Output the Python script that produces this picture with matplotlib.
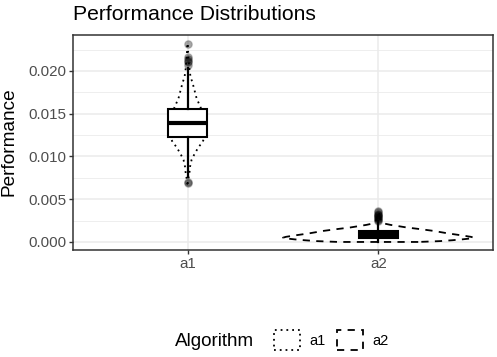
import matplotlib
matplotlib.use("Agg")
import matplotlib.pyplot as plt
from matplotlib.patches import Patch
import numpy as np

plt.rcParams['font.family'] = ['Liberation Sans', 'DejaVu Sans']

# categories
algorithms = ["a1", "a2"]

# violin outlines (value, relative density)
a1_coords = [0.0068, 0.0075, 0.0082, 0.0088, 0.0096, 0.0103, 0.0111, 0.0117, 0.0124, 0.0131, 0.0139,
             0.0146, 0.0152, 0.0160, 0.0168, 0.0177, 0.0186, 0.0193, 0.0201, 0.0213, 0.0225, 0.0232]
a1_density = [0.3, 1, 2, 2.5, 4, 7, 11, 15, 17.5, 19, 19,
              17.5, 15, 12, 9, 7, 5, 3, 2, 1, 0.5, 0.3]
a2_coords = [0.0000, 0.0001, 0.0002, 0.0003, 0.0004, 0.0005, 0.0006, 0.0008, 0.0010, 0.0013,
             0.0015, 0.0017, 0.0020, 0.0022, 0.0026, 0.0030, 0.0036]
a2_density = [40, 62, 74, 84, 92, 96, 93, 82, 70, 55,
              42, 28, 12, 4, 2, 1, 0.5]

# box stats
q1 = [0.01227, 0.00047]
med = [0.01391, 0.00080]
q3 = [0.01555, 0.00127]
whis_lo = [0.0076, 0.0000]
whis_hi = [0.0203, 0.0024]
a1_outliers = [0.0232, 0.0216, 0.0214, 0.0212, 0.0210, 0.0207, 0.0070, 0.0069]
a2_outliers = [0.0025, 0.0026, 0.0027, 0.0028, 0.0029, 0.0030, 0.0031, 0.0032, 0.0033, 0.0035, 0.0036]

fig = plt.figure(figsize=(4.97, 3.57), dpi=100)
ax = fig.add_axes([73/497, 1-250/357, 420/497, 215/357])

# violins
vp = []
for c, d in [(a1_coords, a1_density), (a2_coords, a2_density)]:
    vp.append({"coords": np.array(c), "vals": np.array(d, dtype=float),
               "mean": np.mean(c), "median": np.median(c), "min": min(c), "max": max(c)})
parts = ax.violin(vp, positions=[1, 2], widths=[0.2, 1.0],
                  showmeans=False, showextrema=False, showmedians=False)
styles = [(0, (1, 2.2)), (0, (4, 3.5))]
for body, ls in zip(parts["bodies"], styles):
    body.set_facecolor("none")
    body.set_edgecolor("black")
    body.set_linestyle(ls)
    body.set_linewidth(1.3)
    body.set_alpha(1)
    body.set_zorder(2)

# boxes
bstats = []
fl = [a1_outliers, a2_outliers]
for i in range(2):
    bstats.append({"med": med[i], "q1": q1[i], "q3": q3[i],
                   "whislo": whis_lo[i], "whishi": whis_hi[i], "fliers": fl[i]})
bp = ax.bxp(bstats, positions=[1, 2], widths=0.2, patch_artist=True, showcaps=False,
            boxprops=dict(facecolor="white", edgecolor="black", linewidth=1.5),
            medianprops=dict(color="black", linewidth=3),
            whiskerprops=dict(color="black", linewidth=1.6),
            flierprops=dict(marker="o", markerfacecolor=(0, 0, 0, 0.35),
                            markeredgecolor=(0, 0, 0, 0.15), markersize=5.5),
            zorder=3)
bp["boxes"][1].set_facecolor("black")

ax.set_xlim(0.4, 2.6)
ax.set_ylim(-0.00094, 0.0242)
ax.set_xticks([1, 2])
ax.set_xticklabels(algorithms)
ax.set_yticks([0.0, 0.005, 0.010, 0.015, 0.020])
ax.set_yticklabels(["0.000", "0.005", "0.010", "0.015", "0.020"])
ax.set_yticks([0.0025, 0.0075, 0.0125, 0.0175, 0.0225], minor=True)
ax.grid(True, which="major", color="#EBEBEB", linewidth=1.1, zorder=0)
ax.grid(True, which="minor", axis="y", color="#EBEBEB", linewidth=0.6, zorder=0)
ax.set_axisbelow(True)
ax.tick_params(which="major", length=3, width=1, color="#333333", labelcolor="#4D4D4D",
               labelsize=10.9, pad=2)
ax.tick_params(which="minor", length=0)
for s in ax.spines.values():
    s.set_color("#333333")
    s.set_linewidth(1.1)

fig.text(73/497, 1-20/357, "Performance Distributions", fontsize=15.2, va="baseline", ha="left")
fig.text(9/497, 1-142/357, "Performance", fontsize=13.7, rotation=90, va="center", ha="center")

# legend
fig.text(175/497, 1-341/357, "Algorithm", fontsize=13.6, va="center", ha="left")
handles = [Patch(facecolor="white", edgecolor="black", linestyle=styles[0], linewidth=1.3),
           Patch(facecolor="white", edgecolor="black", linestyle=styles[1], linewidth=1.3)]
fig.legend(handles, algorithms, loc="center left", bbox_to_anchor=(264/497, 1-340/357), ncol=2,
           frameon=False, fontsize=10.5, handlelength=1.8, handleheight=1.8,
           handletextpad=0.6, columnspacing=0.8, borderpad=0.2)

fig.savefig("out.png", dpi=100)
